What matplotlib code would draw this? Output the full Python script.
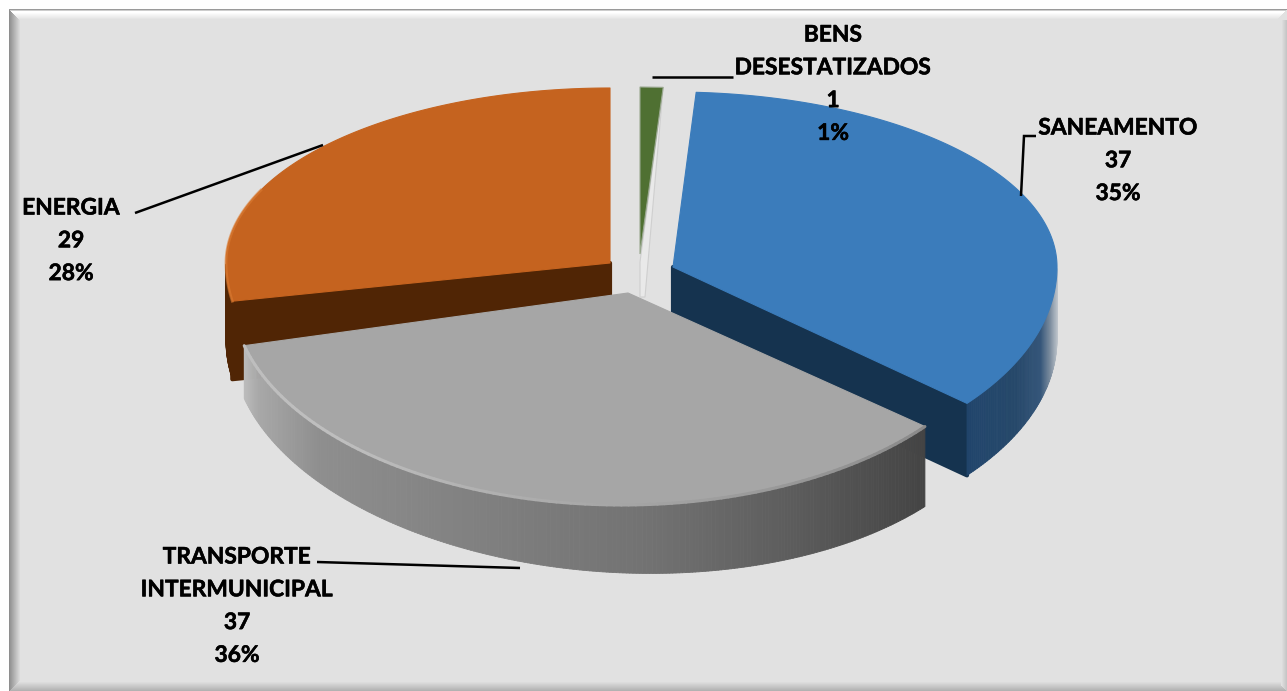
import numpy as np
import matplotlib
matplotlib.use("Agg")
import matplotlib.pyplot as plt
import matplotlib.patheffects as pe
from matplotlib.collections import PolyCollection
from matplotlib.colors import to_rgb
from matplotlib.patches import Polygon, Rectangle

# ---- data ----
categories = ["BENS\nDESESTATIZADOS", "SANEAMENTO", "TRANSPORTE\nINTERMUNICIPAL", "ENERGIA"]
values = [1, 37, 37, 29]
percent_labels = ["1%", "35%", "36%", "28%"]

# ---- layout ----
W, H = 1287, 691
RX, R_UP, R_DOWN = 384, 175, 212
BG = "#E1E1E1"

fig = plt.figure(figsize=(W / 100, H / 100), dpi=100, facecolor="white")
ax = fig.add_axes([0, 0, 1, 1])
ax.set_xlim(0, W)
ax.set_ylim(H, 0)
ax.axis("off")
plt.rcParams["font.family"] = ["Lato", "DejaVu Sans"]


def mix(a, b, t):
    a, b = np.array(to_rgb(a)), np.array(to_rgb(b))
    return tuple(a + (b - a) * t)


def ramp(stops, x):
    xs = [s[0] for s in stops]
    rgb = np.array([to_rgb(s[1]) for s in stops])
    return tuple(np.interp(x, xs, rgb[:, i]) for i in range(3))


# ---- frame ----
ax.add_patch(Rectangle((9, 9), W - 9, H - 9, fc=BG, ec="none", zorder=0))
for i in range(12):  # left bevel, dark to background
    ax.add_patch(Rectangle((9 + i, 9 + i), 1, H - 9 - 2 * i, fc=mix("#8E8E8E", BG, i / 11), ec="none", zorder=1))
for i in range(11):  # top bevel, light band under a grey line
    c = mix("#9A9A9A", "#FFFFFF", i / 2) if i < 3 else mix("#FFFFFF", BG, (i - 3) / 7)
    ax.add_patch(Rectangle((9 + i, 9 + i), W - 9 - 2 * i, 1, fc=c, ec="none", zorder=1))
for i in range(10):  # bottom bevel
    ax.add_patch(Rectangle((20 + i - 10, H - 1 - i), W - 10, 1, fc=mix("#B2B2B2", BG, i / 9), ec="none", zorder=1))
for i in range(6):  # right bevel
    ax.add_patch(Rectangle((W - 1 - i, 20), 1, H - 20 - i, fc=mix("#C6C6C6", BG, i / 5), ec="none", zorder=1))


# ---- 3-D pie ----
def rim(cx, cy, deg, rx=RX):
    a = np.radians(np.asarray(deg, dtype=float))
    c = np.cos(a)
    return cx + rx * np.sin(a), cy - np.where(c > 0, R_UP, R_DOWN) * c


def depth_at(x, base, slope):
    return base + slope * (x - 600)


def draw_slice(a0, a1, center, color, wall_color, base, slope, stops, z, wall=None, rx=RX, apex=None):
    cx, cy = center
    ax_, ay_ = apex if apex else center
    deg = np.linspace(a0, a1, 260)
    xs, ys = rim(cx, cy, deg, rx)
    # radial inner wall
    if wall:
        ex, ey = (xs[0], ys[0]) if wall == "start" else (xs[-1], ys[-1])
        quad = [(ax_, ay_), (ex, ey), (ex, ey + depth_at(ex, base, slope)), (ax_, ay_ + depth_at(ax_, base, slope))]
        ax.add_patch(Polygon(quad, fc=wall_color, ec=wall_color, lw=3, joinstyle="round", zorder=z))
    # outer curved wall, shaded along x
    front = (deg > 90) & (deg < 270)
    fd = deg[front]
    if len(fd) > 1:
        fx, fy = rim(cx, cy, fd, rx)
        d = depth_at(fx, base, slope)
        polys, cols = [], []
        for i in range(len(fd) - 1):
            polys.append([(fx[i], fy[i]), (fx[i + 1], fy[i + 1]),
                          (fx[i + 1], fy[i + 1] + d[i + 1]), (fx[i], fy[i] + d[i])])
            cols.append(ramp(stops, 0.5 * (fx[i] + fx[i + 1])))
        ax.add_collection(PolyCollection(polys, facecolors=cols, edgecolors=cols, linewidths=0.6, zorder=z + 0.1))
    # top face
    ax.add_patch(Polygon(np.column_stack([np.r_[ax_, xs], np.r_[ay_, ys]]), fc=color, ec=color, lw=0.8,
                         joinstyle="round", zorder=z + 0.2))


total = sum(values)
edges = np.cumsum([0] + values) / total * 360.0

# Energia (back left)
draw_slice(edges[3], edges[4], (610, 263), "#C5631F", "#502505", 78, 0,
           [(200, "#502505"), (300, "#502505")], 2, wall="start")
ex_, ey_ = rim(610, 263, np.linspace(edges[3], edges[3] + 35, 60))
ax.plot(ex_, ey_, color="#DB7C33", lw=2, alpha=0.6, zorder=2.3)

# Bens desestatizados: thin sliver fading into a pale wall
bx, by = 640, 262
ox, oy = rim(bx, by, edges[1])
ax.add_patch(Polygon([(ox, oy), (bx + 5, by + 35), (bx, by + 35), (bx, by)], fc="#E9E9E9", ec="#CFCFCF", lw=0.8, zorder=3))
lx, ly = rim(bx, by, edges[0])
ax.add_patch(Polygon([(lx, ly), (ox, oy), (bx, by - 8)], fc="#4F7032", ec="#9AA890", lw=0.8, zorder=3.2))

# Saneamento (right); the perspective turns the slice edges a few degrees
draw_slice(edges[1], edges[2] - 1.5, (673, 267), "#3B7CBB", "#15334F", 72, 0,
           [(955, "#1B3F66"), (975, "#22466C"), (1015, "#26486A"), (1040, "#35567A"), (1050, "#7F8FA0"), (1058, "#C9CED3")],
           4, wall="end")

# Transporte intermunicipal (front)
T0, T1 = edges[2] - 2.5, edges[3] - 4
draw_slice(T0, T1, (622, 293), "#A6A6A6", "#4A4A4A", 67, 0.04,
           [(236, "#C8C8C8"), (258, "#A8A8A8"), (320, "#8E8E8E"), (480, "#808080"), (650, "#727272"),
            (800, "#5B5B5B"), (930, "#434343")], 6, rx=390, apex=(628, 293))
tx, ty = rim(622, 293, np.linspace(T0, T1, 120), 390)
for i in range(len(tx) - 1):
    t = np.clip(i / 90, 0, 1)
    ax.plot(tx[i:i + 2], ty[i:i + 2], color=mix("#8A8A8A", "#BEBEBE", t), lw=2.2, solid_capstyle="round", zorder=6.3)

# ---- leader lines ----
leaders = [
    [(652, 77), (733, 77)],
    [(1021, 196), (1024, 136), (1036, 136)],
    [(323, 145), (135, 213)],
    [(317, 562), (520, 568)],
]
for pts in leaders:
    ax.plot(*zip(*pts), color="black", lw=1.8, solid_capstyle="butt", solid_joinstyle="miter", zorder=8)

# ---- labels ----
label_pos = [(833, 35), (1118, 128), (237, 557), (71, 208)]
LINE = 32.8
for cat, val, pct, (x, y) in zip(categories, values, percent_labels, label_pos):
    lines = cat.split("\n") + [str(val), pct]
    for k, s in enumerate(lines):
        ax.text(x, y + k * LINE, s, ha="center", va="center", fontsize=16.4, fontweight="bold",
                color="black", family=["Lato", "DejaVu Sans"], zorder=9,
                path_effects=[pe.withStroke(linewidth=0.4, foreground="black")])

fig.savefig("out.png", dpi=100, facecolor="white")
